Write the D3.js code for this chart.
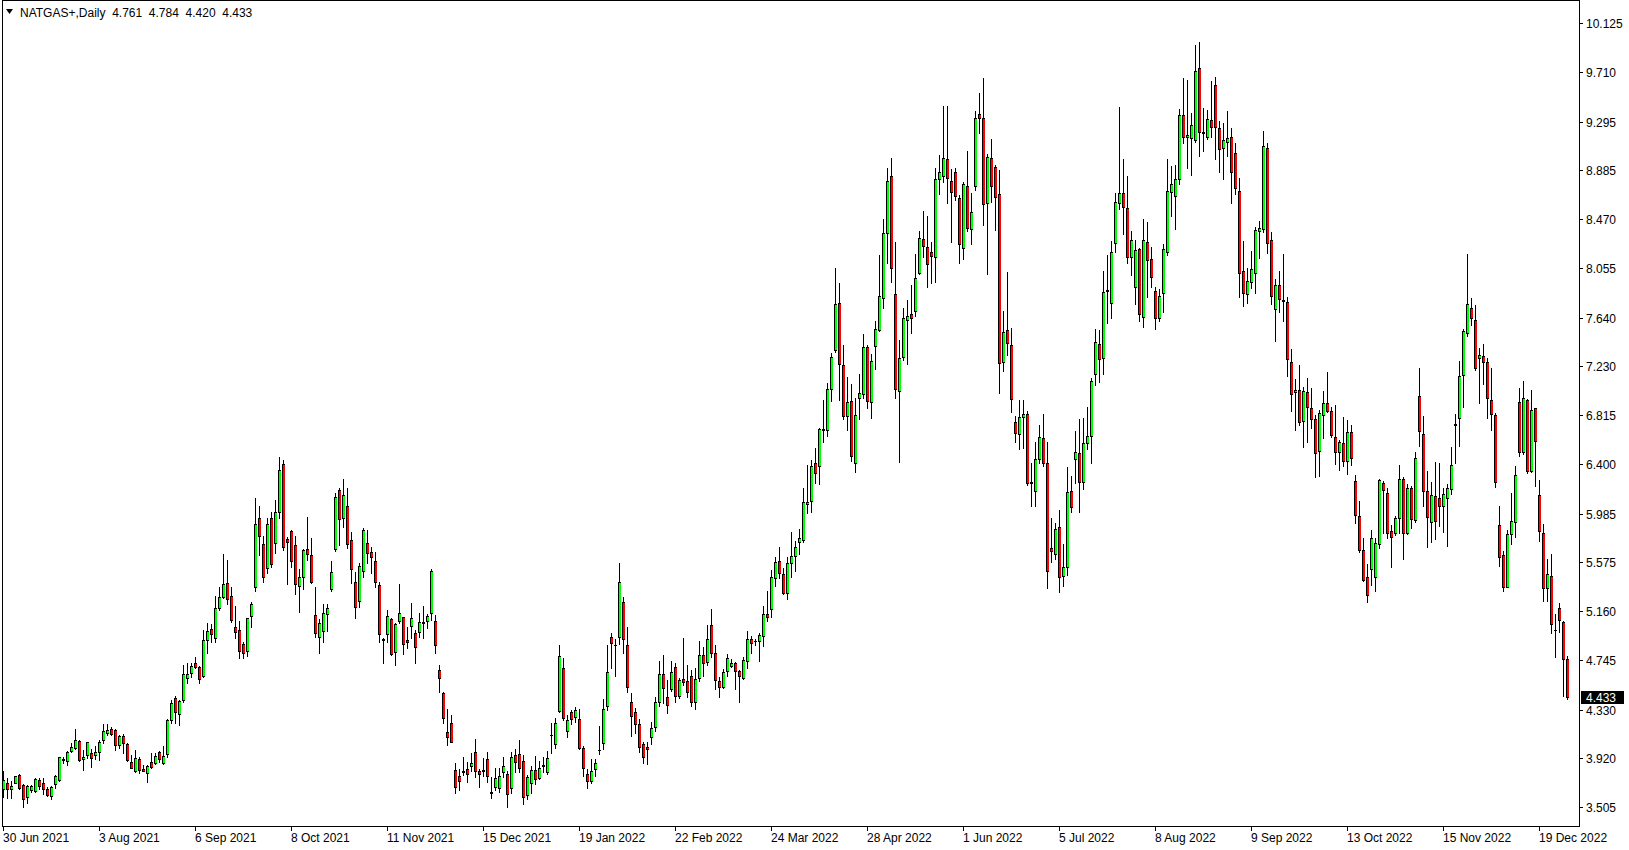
<!DOCTYPE html>
<html><head><meta charset="utf-8">
<script src="https://cdn.jsdelivr.net/npm/d3@7"></script>
<style>
body{margin:0;background:#fff;}
svg{display:block;}
text{font-family:"Liberation Sans",Arial,sans-serif;font-size:12px;fill:#000;white-space:pre;}
</style>
</head><body>
<svg id="chart" width="1629" height="850"></svg>
<script>
const symbolLabel = "NATGAS+,Daily";
const lastQuote = ["4.761", "4.784", "4.420", "4.433"];

const open = [3.659,3.707,3.657,3.713,3.775,3.690,3.589,3.654,3.640,3.735,3.707,3.659,3.600,3.699,3.735,3.904,3.893,3.983,4.003,4.065,
3.910,3.944,3.961,3.949,3.969,4.070,4.135,4.166,4.155,4.034,4.107,4.039,3.887,3.809,3.916,3.828,3.792,3.884,3.876,3.969,
3.882,3.952,4.242,4.425,4.290,4.411,4.594,4.636,4.720,4.687,4.613,4.918,5.008,4.932,5.191,5.283,5.396,5.289,5.030,5.002,
4.881,4.827,5.120,5.368,5.950,5.728,5.523,5.950,5.734,6.000,6.400,5.767,5.838,5.720,5.376,5.452,5.683,5.635,5.128,4.945,
4.993,5.134,5.348,5.686,6.184,5.945,6.049,5.762,5.410,5.249,5.503,5.734,5.658,5.584,5.382,4.923,4.965,5.095,4.813,5.080,
5.109,4.917,5.038,4.974,4.982,5.058,5.080,5.142,5.075,4.664,4.472,4.137,4.213,3.819,3.769,3.811,3.825,3.856,3.974,3.814,
3.819,3.909,3.631,3.673,3.665,3.800,3.786,3.665,3.946,3.954,3.895,3.608,3.707,3.819,3.755,3.853,3.805,4.112,4.036,4.318,
4.678,4.149,4.306,4.264,4.251,4.003,3.783,3.730,3.826,3.986,4.051,4.363,4.940,4.879,4.946,5.236,4.876,4.392,4.307,4.209,
4.037,4.012,4.096,4.180,4.392,4.628,4.434,4.501,4.693,4.448,4.586,4.572,4.614,4.397,4.594,4.791,4.729,5.045,4.805,4.572,
4.517,4.655,4.700,4.720,4.655,4.599,4.743,4.923,4.906,4.912,4.951,5.137,5.179,5.444,5.584,5.472,5.311,5.565,5.627,5.742,
5.762,6.063,6.094,6.409,6.387,6.691,6.691,7.037,7.366,7.760,7.240,6.812,6.936,6.409,6.958,6.992,7.394,6.930,7.403,7.535,
7.802,8.351,8.835,7.836,7.023,7.304,7.619,7.667,7.695,8.013,8.301,8.233,8.191,8.149,8.807,8.838,8.976,8.793,8.866,8.647,
8.225,8.751,8.385,8.754,9.359,9.322,8.610,8.985,8.909,8.681,7.262,7.535,7.408,6.755,6.654,6.803,6.823,6.248,6.178,6.443,
6.620,6.409,5.691,5.640,5.874,5.457,5.531,6.178,6.446,6.499,6.248,6.578,6.640,7.163,7.414,7.296,7.864,7.760,8.267,8.605,
8.689,8.562,8.149,7.895,8.219,7.642,8.275,8.132,7.867,7.633,7.850,8.196,8.703,8.669,8.807,9.351,9.162,9.154,9.139,9.745,
9.207,9.168,9.308,9.604,9.238,9.069,9.125,9.162,9.027,8.709,8.033,7.836,7.943,8.019,8.374,8.385,9.069,8.295,7.709,7.915,
7.785,7.769,7.268,7.009,7.029,6.767,7.009,6.879,6.784,6.516,6.817,6.916,6.851,6.629,6.502,6.578,6.432,6.671,6.260,5.965,
5.677,5.452,5.514,5.452,5.725,6.246,6.156,5.838,5.824,5.945,6.274,5.818,6.198,5.931,6.978,6.654,6.178,5.917,6.133,6.113,
6.049,6.119,6.192,6.736,6.789,7.155,7.507,7.724,7.620,7.296,7.315,7.268,6.944,6.817,5.888,5.635,5.368,5.810,5.917,6.924,
6.508,6.944,6.347,6.873,6.142,5.818,5.354,5.458,5.004,5.184,5.066,4.761];

const high = [3.811,3.750,3.730,3.772,3.783,3.699,3.693,3.693,3.750,3.750,3.750,3.679,3.685,3.778,3.932,3.932,3.978,4.051,4.163,4.073,
3.989,4.059,3.995,4.023,4.073,4.208,4.206,4.180,4.166,4.115,4.124,4.051,3.947,3.989,3.932,3.862,3.862,3.960,3.960,3.983,
4.022,4.250,4.411,4.445,4.411,4.706,4.720,4.720,4.771,4.698,5.002,5.058,5.050,5.289,5.368,5.644,5.593,5.368,5.205,5.078,
4.903,5.106,5.241,6.120,6.050,5.800,5.950,6.000,6.100,6.460,6.440,5.790,5.846,5.798,5.514,5.686,5.959,5.781,5.368,5.095,
5.218,5.218,5.584,6.156,6.198,6.277,6.204,5.826,5.494,5.565,5.866,5.846,5.705,5.663,5.410,4.937,5.171,5.100,5.058,5.387,
5.114,5.030,5.227,5.002,5.142,5.204,5.134,5.517,5.128,4.706,4.481,4.334,4.284,3.876,3.825,3.932,3.884,3.960,4.081,3.825,
3.918,3.968,3.763,3.833,3.833,3.932,3.811,3.974,3.997,4.073,3.946,3.777,3.856,3.938,3.895,3.932,3.980,4.213,4.256,4.875,
4.762,4.284,4.326,4.349,4.335,4.023,3.826,3.910,3.910,4.192,4.417,4.876,4.974,4.924,5.565,5.278,5.025,4.468,4.341,4.248,
4.059,4.054,4.223,4.439,4.741,4.791,4.580,4.741,4.721,4.600,4.932,4.707,4.665,4.679,4.909,4.862,5.045,5.180,4.876,4.608,
4.672,4.796,4.754,4.728,4.664,4.776,4.993,4.951,4.926,4.973,5.207,5.331,5.508,5.621,5.700,5.522,5.615,5.826,5.756,5.852,
6.198,6.395,6.437,6.541,6.710,6.944,7.090,7.338,8.062,7.929,7.408,7.135,7.076,6.958,7.164,7.501,7.408,7.332,7.611,8.168,
8.472,8.906,8.990,8.275,7.450,7.723,7.788,7.915,8.177,8.371,8.540,8.498,8.275,8.900,9.013,9.427,9.427,8.895,8.900,8.675,
8.782,9.047,8.689,9.387,9.533,9.660,9.021,9.148,8.928,8.886,7.695,8.028,7.549,6.809,6.944,6.944,6.851,6.409,6.592,6.733,
6.823,6.592,5.944,5.902,6.015,5.725,6.381,6.302,6.682,6.783,6.795,6.887,7.127,7.540,7.535,8.033,8.168,8.286,8.689,9.415,
8.976,8.835,8.371,8.295,8.230,8.472,8.450,8.233,7.901,7.881,8.258,8.979,8.920,8.928,9.401,9.666,9.646,9.365,9.942,9.970,
9.407,9.393,9.638,9.674,9.300,9.280,9.384,9.238,9.111,8.821,8.286,8.056,8.202,8.407,8.455,9.215,9.117,8.365,7.963,8.033,
8.177,7.816,7.374,7.121,7.240,7.057,7.127,7.043,6.817,6.860,7.020,7.178,6.888,6.902,6.606,6.803,6.775,6.733,6.311,6.091,
5.781,5.559,5.846,5.781,6.274,6.260,6.198,5.889,5.967,6.395,6.291,6.232,6.221,6.502,7.217,6.809,6.347,6.255,6.418,6.409,
6.198,6.232,6.550,6.826,7.273,7.543,8.177,7.808,7.746,7.380,7.417,7.296,7.217,6.831,6.049,5.669,5.846,6.161,6.387,7.043,
7.104,6.952,7.029,6.879,6.268,5.897,5.601,5.643,5.137,5.227,5.078,4.784];

const low = [3.589,3.581,3.586,3.707,3.659,3.510,3.538,3.637,3.637,3.662,3.617,3.600,3.572,3.665,3.730,3.882,3.862,3.975,3.997,3.899,
3.820,3.918,3.848,3.913,3.907,4.045,4.115,4.113,3.989,4.003,3.966,3.893,3.834,3.800,3.792,3.811,3.721,3.839,3.868,3.890,
3.868,3.927,4.214,4.219,4.200,4.397,4.557,4.608,4.678,4.552,4.602,4.811,4.903,4.903,5.171,5.269,5.219,5.072,4.937,4.763,
4.763,4.785,5.030,5.334,5.635,5.410,5.486,5.530,5.655,5.950,5.680,5.387,5.537,5.303,5.157,5.345,5.593,5.396,4.945,4.810,
4.903,4.996,5.334,5.669,5.720,5.874,5.697,5.396,5.106,5.199,5.452,5.565,5.486,5.368,4.898,4.720,4.898,4.791,4.706,5.058,
4.796,4.847,4.937,4.726,4.945,4.937,5.021,5.086,4.810,4.475,4.213,4.030,4.053,3.622,3.650,3.777,3.721,3.811,3.763,3.679,
3.771,3.721,3.580,3.650,3.636,3.763,3.510,3.622,3.800,3.805,3.529,3.572,3.628,3.698,3.741,3.800,3.783,3.966,4.002,4.306,
4.242,4.095,4.205,4.222,3.997,3.769,3.671,3.708,3.769,3.955,3.997,4.327,4.684,4.614,4.884,4.811,4.482,4.107,4.130,3.975,
3.876,3.868,4.037,4.152,4.363,4.389,4.299,4.487,4.397,4.431,4.538,4.434,4.363,4.332,4.575,4.614,4.707,4.777,4.501,4.439,
4.509,4.616,4.692,4.500,4.397,4.588,4.684,4.805,4.875,4.743,4.869,5.080,5.108,5.376,5.444,5.303,5.261,5.452,5.500,5.641,
5.748,5.987,5.995,6.240,6.235,6.592,6.640,6.938,7.352,6.944,6.784,6.691,6.429,6.339,6.781,6.958,6.873,6.795,7.206,7.529,
7.724,8.104,7.943,6.958,6.423,7.282,7.245,7.507,7.656,8.008,8.154,7.901,7.929,7.943,8.683,8.788,8.610,8.281,8.633,8.104,
8.135,8.371,8.258,8.717,9.196,8.422,8.008,8.613,8.379,7.000,7.191,7.324,6.845,6.592,6.527,6.541,6.226,6.051,6.051,6.409,
6.389,5.353,5.578,5.598,5.319,5.373,5.466,6.001,6.240,6.001,6.189,6.530,6.409,7.070,7.099,7.160,7.597,7.639,8.191,8.554,
8.343,8.098,8.000,7.752,7.614,7.557,7.816,7.901,7.540,7.614,7.690,8.168,8.498,8.388,8.768,9.117,8.906,8.844,9.125,9.001,
9.047,9.145,9.168,8.976,8.872,8.807,9.001,8.610,8.681,7.816,7.740,7.766,7.887,7.850,8.146,8.365,8.188,7.752,7.445,7.690,
7.611,7.149,6.854,6.691,6.733,6.550,6.592,6.705,6.297,6.305,6.620,6.846,6.634,6.401,6.353,6.390,6.319,6.395,5.903,5.663,
5.416,5.241,5.382,5.334,5.697,5.818,5.776,5.537,5.804,5.818,5.601,5.810,5.866,5.917,6.558,6.052,5.706,5.748,5.767,5.880,
5.832,5.714,6.147,6.415,6.555,6.888,7.487,7.577,7.197,6.921,7.079,6.795,6.691,6.212,5.545,5.334,5.362,5.725,5.790,6.471,
6.488,6.325,6.339,6.221,5.756,5.249,5.249,4.973,4.771,4.982,4.447,4.420];

const close = [3.735,3.657,3.682,3.766,3.665,3.572,3.682,3.682,3.741,3.688,3.662,3.612,3.679,3.769,3.927,3.916,3.972,4.011,4.073,3.904,
3.927,4.054,3.918,3.972,4.054,4.146,4.158,4.121,4.028,4.107,4.045,3.904,3.840,3.918,3.820,3.814,3.854,3.848,3.941,3.910,
3.941,4.239,4.383,4.307,4.400,4.628,4.628,4.698,4.687,4.585,4.918,4.993,4.965,5.185,5.278,5.390,5.261,5.086,4.988,4.827,
4.805,5.100,5.219,5.900,5.800,5.447,5.900,5.559,6.000,6.350,5.706,5.748,5.587,5.387,5.452,5.677,5.641,5.410,4.974,5.058,
5.142,5.185,5.489,6.122,5.936,6.142,5.725,5.514,5.199,5.542,5.846,5.649,5.615,5.404,4.965,4.917,5.120,4.796,5.052,5.142,
4.881,4.898,5.100,4.855,5.066,5.066,5.120,5.500,4.872,4.599,4.261,4.101,4.059,3.679,3.729,3.805,3.783,3.876,3.814,3.783,
3.811,3.771,3.625,3.749,3.769,3.853,3.614,3.926,3.884,3.833,3.588,3.757,3.819,3.741,3.833,3.861,3.918,4.118,4.213,4.782,
4.256,4.242,4.250,4.326,4.009,3.834,3.730,3.812,3.876,3.992,4.332,4.645,4.895,4.873,5.405,4.924,4.518,4.279,4.206,4.017,
3.933,3.995,4.172,4.392,4.628,4.510,4.369,4.645,4.448,4.580,4.566,4.482,4.397,4.589,4.791,4.721,4.926,4.805,4.580,4.518,
4.644,4.768,4.720,4.655,4.613,4.748,4.923,4.889,4.912,4.959,5.134,5.114,5.452,5.573,5.480,5.317,5.565,5.627,5.700,5.776,
6.080,6.080,6.387,6.325,6.699,6.699,7.034,7.304,7.752,7.245,6.812,6.930,6.474,6.817,7.000,7.389,6.938,7.273,7.543,7.822,
8.351,8.793,8.056,7.034,7.296,7.633,7.656,7.633,7.971,8.309,8.247,8.090,8.163,8.810,8.866,8.985,8.816,8.703,8.669,8.258,
8.765,8.399,8.529,9.322,9.328,8.596,8.993,8.754,8.655,7.253,7.521,7.422,6.952,6.662,6.797,6.823,6.240,6.243,6.443,6.628,
6.409,5.500,5.669,5.852,5.446,5.536,6.170,6.037,6.507,6.248,6.578,6.642,7.107,7.436,7.290,7.859,7.870,8.196,8.619,8.689,
8.571,8.154,8.292,8.210,7.667,8.292,8.123,7.985,7.639,7.825,8.216,8.709,8.765,8.807,9.351,9.168,9.182,9.266,9.722,9.210,
9.201,9.314,9.246,9.252,9.061,9.139,9.154,8.872,8.731,8.013,7.850,7.951,8.047,8.379,8.393,9.089,8.272,7.825,7.915,7.794,
7.780,7.290,6.992,7.029,6.761,7.020,6.882,6.781,6.499,6.832,6.916,6.854,6.648,6.508,6.587,6.432,6.671,6.457,5.973,5.677,
5.424,5.297,5.776,5.734,6.269,6.184,5.824,5.784,5.945,6.274,5.818,6.198,5.936,6.452,6.685,6.178,5.953,6.142,5.925,6.049,
6.147,6.198,6.395,6.741,7.147,7.527,7.752,7.639,7.211,7.324,7.262,6.958,6.823,6.249,5.615,5.362,5.810,5.922,6.311,6.508,
6.958,6.347,6.859,6.598,5.838,5.354,5.472,5.052,4.999,5.086,4.757,4.433];

const priceTicks = ["3.505","3.920","4.330","4.745","5.160","5.575","5.985","6.400","6.815","7.230","7.640","8.055","8.470","8.885","9.295","9.710","10.125"];
const dateTickIndex = [0,24,48,72,96,120,144,168,192,216,240,264,288,312,336,360,384];
const dateLabels = ["30 Jun 2021","3 Aug 2021","6 Sep 2021","8 Oct 2021","11 Nov 2021","15 Dec 2021","19 Jan 2022","22 Feb 2022","24 Mar 2022","28 Apr 2022","1 Jun 2022","5 Jul 2022","8 Aug 2022","9 Sep 2022","13 Oct 2022","15 Nov 2022","19 Dec 2022"];

const W = 1629, H = 850;
const plotRight = 1579, plotBottom = 826;
const bullColor = "#00ff00", bearColor = "#ff0000";

const svg = d3.select("#chart");
svg.append("rect").attr("width", W).attr("height", H).attr("fill", "#fff");

const n = close.length;
const x = d3.scaleLinear().domain([0, n - 1]).range([3, 1567]);
const y = d3.scaleLinear().domain([3.505, 10.125]).range([807.3, 23.3]);

const bars = d3.range(n).map(i => {
  const top = Math.round(y(Math.max(open[i], close[i])));
  const bot = Math.round(y(Math.min(open[i], close[i])));
  return {i, o: open[i], h: high[i], l: low[i], c: close[i], top, bot, cx: Math.round(x(i))};
});

const g = svg.append("g").attr("shape-rendering", "crispEdges");

// wicks
g.selectAll("rect.wick").data(bars).join("rect")
  .attr("class", "wick")
  .attr("x", d => d.cx)
  .attr("y", d => Math.round(y(d.h)))
  .attr("width", 1)
  .attr("height", d => Math.max(1, Math.round(y(d.l)) - Math.round(y(d.h)) + 1))
  .attr("fill", "#000");

// body outline
g.selectAll("rect.body").data(bars).join("rect")
  .attr("class", "body")
  .attr("x", d => d.cx - 1)
  .attr("y", d => d.top)
  .attr("width", 3)
  .attr("height", d => Math.max(1, d.bot - d.top + 1))
  .attr("fill", "#000");

// body fill (2px wide inside the 3px body)
g.selectAll("rect.fill").data(bars.filter(d => d.bot - d.top >= 2)).join("rect")
  .attr("class", "fill")
  .attr("x", d => d.cx)
  .attr("y", d => d.top + 1)
  .attr("width", 2)
  .attr("height", d => d.bot - d.top - 1)
  .attr("fill", d => d.c >= d.o ? bullColor : bearColor);
g.selectAll("rect.rim").data(bars.filter(d => d.bot - d.top >= 2)).join("rect")
  .attr("class", "rim")
  .attr("x", d => d.cx + 2)
  .attr("y", d => d.top)
  .attr("width", 0)
  .attr("height", d => d.bot - d.top + 1)
  .attr("fill", "#000");

// frame
const f = svg.append("g").attr("shape-rendering", "crispEdges");
f.append("rect").attr("x", 2).attr("y", 0).attr("width", 1).attr("height", plotBottom + 1).attr("fill", "#000");
f.append("rect").attr("x", plotRight).attr("y", 0).attr("width", 1).attr("height", plotBottom + 1).attr("fill", "#000");
f.append("rect").attr("x", 2).attr("y", plotBottom).attr("width", plotRight - 1).attr("height", 1).attr("fill", "#000");
f.append("rect").attr("x", 2).attr("y", 0).attr("width", plotRight - 1).attr("height", 1).attr("fill", "#000");

// price axis
const py = priceTicks.map(t => ({t, yy: Math.round(y(+t))}));
f.selectAll("rect.ptick").data(py).join("rect")
  .attr("x", plotRight + 1).attr("y", d => d.yy).attr("width", 3).attr("height", 1).attr("fill", "#000");
svg.selectAll("text.plab").data(py).join("text")
  .attr("class", "plab")
  .attr("x", plotRight + 7).attr("y", d => d.yy + 4.5)
  .text(d => d.t);

// date axis
const dx = dateTickIndex.map((k, j) => ({k, lab: dateLabels[j], xx: Math.round(x(k))}));
f.selectAll("rect.dtick").data(dx).join("rect")
  .attr("x", d => d.xx).attr("y", plotBottom + 1).attr("width", 1).attr("height", 4).attr("fill", "#000");
svg.selectAll("text.dlab").data(dx).join("text")
  .attr("class", "dlab")
  .attr("x", d => d.xx).attr("y", 842)
  .text(d => d.lab);

// last price tag
const lastY = Math.round(y(close[n - 1]));
f.append("rect").attr("x", plotRight + 2).attr("y", lastY - 6).attr("width", 43).attr("height", 13).attr("fill", "#000");
svg.append("text").attr("x", plotRight + 7).attr("y", lastY + 4.5).style("fill", "#fff").text(lastQuote[3]);

// header
svg.append("path").attr("d", "M6,9 L13,9 L9.5,14 Z").attr("fill", "#000");
svg.append("text").attr("x", 20).attr("y", 17).text(symbolLabel + "  " + lastQuote.join("  "));
</script>
</body></html>
